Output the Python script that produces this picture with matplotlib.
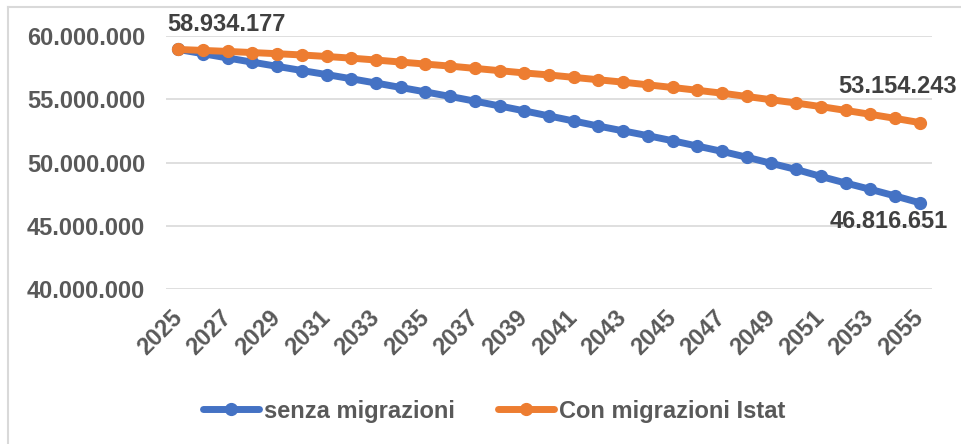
import numpy as np
import matplotlib
matplotlib.use("Agg")
import matplotlib.pyplot as plt
from matplotlib.lines import Line2D
from matplotlib.ticker import FuncFormatter

# population projection, values in inhabitants
years = list(range(2025, 2056))
senza = [58934177, 58600000, 58260000, 57930000, 57600000, 57270000, 56950000,
         56620000, 56280000, 55930000, 55580000, 55220000, 54850000, 54470000,
         54080000, 53680000, 53280000, 52880000, 52500000, 52120000, 51720000,
         51300000, 50880000, 50420000, 49930000, 49450000, 48900000, 48380000,
         47880000, 47360000, 46816651]
con_istat = [58934177, 58860000, 58780000, 58690000, 58600000, 58500000, 58380000,
             58250000, 58100000, 57940000, 57780000, 57620000, 57440000, 57260000,
             57080000, 56920000, 56730000, 56540000, 56350000, 56140000, 55930000,
             55710000, 55480000, 55220000, 54960000, 54700000, 54420000, 54120000,
             53810000, 53490000, 53154243]
series_names = ["senza migrazioni", "Con migrazioni Istat"]
yticks = [40000000, 45000000, 50000000, 55000000, 60000000]

BLUE = "#4472C4"
ORANGE = "#ED7D31"
TXT = "#595959"
GRID = "#D9D9D9"
FS = 17

plt.rcParams['font.family'] = ['Liberation Sans', 'DejaVu Sans']
plt.rcParams['font.weight'] = 'bold'

def dots(v, pos=None):
    return "{:,.0f}".format(v).replace(",", ".")

W, H = 961, 444
fig = plt.figure(figsize=(W / 100, H / 100), dpi=100)
ax = fig.add_axes([166 / W, 1 - 289 / H, (932 - 166) / W, (289 - 36) / H])

ax.plot(years, senza, color=BLUE, lw=5, marker='o', ms=8.5, label=series_names[0],
        solid_capstyle='round', zorder=3)
ax.plot(years, con_istat, color=ORANGE, lw=5, marker='o', ms=8.5, label=series_names[1],
        solid_capstyle='round', zorder=4)

ax.set_xlim(years[0] - 0.5, years[-1] + 0.5)
ax.set_ylim(yticks[0], yticks[-1])
ax.set_yticks(yticks)
ax.yaxis.set_major_formatter(FuncFormatter(dots))
ax.set_xticks(years[::2])
ax.set_xticklabels([str(y) for y in years[::2]], rotation=45, ha='right', va='center',
                   rotation_mode='anchor')
ax.tick_params(axis='both', length=0, labelsize=FS, labelcolor=TXT)
ax.tick_params(axis='x', pad=18)
ax.tick_params(axis='y', pad=15)
ax.grid(axis='y', color=GRID, lw=1.2, zorder=0)
for s in ax.spines.values():
    s.set_visible(False)
ax.set_axisbelow(True)

# data labels
lab = dict(fontsize=FS, color="#404040", fontweight='bold')
ax.annotate(dots(senza[0]), (years[0], con_istat[0]), xytext=(-8, 10),
            textcoords='offset points', ha='left', va='bottom', **lab)
ax.annotate(dots(con_istat[-1]), (years[-1], con_istat[-1]), xytext=(-16, 18),
            textcoords='offset points', ha='center', va='bottom', **lab)
ax.annotate(dots(senza[-1]), (years[-1], senza[-1]), xytext=(-22, -5),
            textcoords='offset points', ha='center', va='top', **lab)

leg = fig.legend(loc='center', bbox_to_anchor=(494 / W, 1 - 411 / H), ncol=2,
                 frameon=False, fontsize=FS, handlelength=2.4, columnspacing=1.8,
                 handletextpad=0.2)
for t in leg.get_texts():
    t.set_color(TXT)

# chart area border (left and top edges visible)
fig.add_artist(Line2D([8 / W, 8 / W], [0, 1 - 7 / H], color=GRID, lw=1.5,
                      transform=fig.transFigure))
fig.add_artist(Line2D([8 / W, 1], [1 - 7 / H, 1 - 7 / H], color=GRID, lw=1.5,
                      transform=fig.transFigure))

fig.savefig("out.png", dpi=100)
